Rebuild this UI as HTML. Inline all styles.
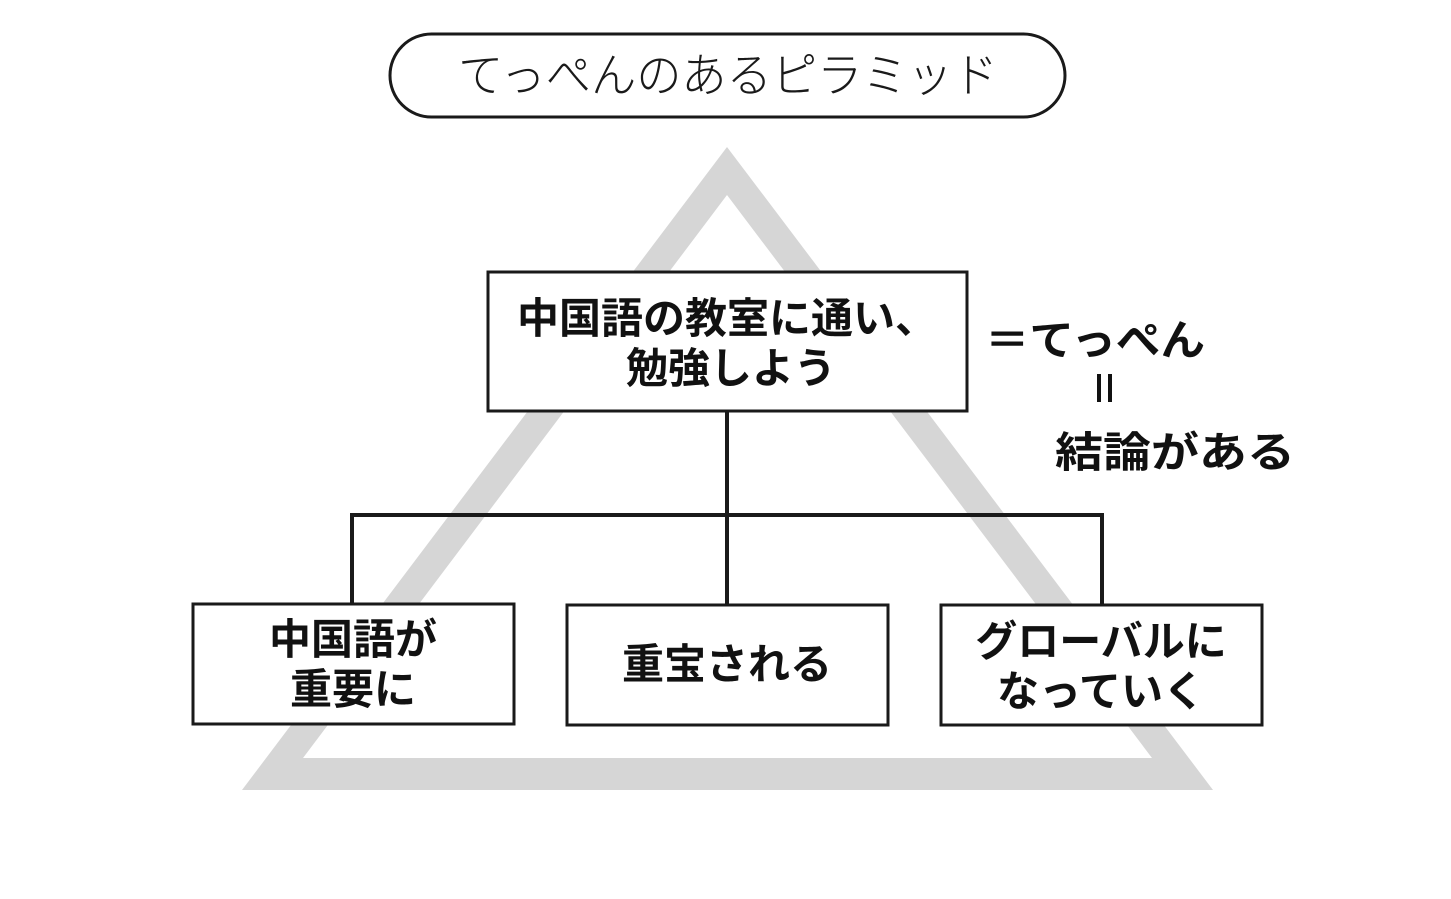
<!DOCTYPE html>
<html><head><meta charset="utf-8"><style>
html,body{margin:0;padding:0;background:#fff;}
svg{display:block;}
text{font-family:"Liberation Sans","Noto Sans CJK JP",sans-serif;}
.b{font-weight:700;font-size:42px;fill:#111;}
</style></head><body>
<svg width="1451" height="899" viewBox="0 0 1451 899">
<rect width="1451" height="899" fill="#fff"/>
<path fill-rule="evenodd" fill="#d6d6d6" d="M727 147 L1213 790 L242 790 Z M727 195 L303 758 L1152 758 Z"/>
<rect x="390" y="34" width="675" height="83" rx="41.5" fill="#fff" stroke="#1a1a1a" stroke-width="3"/>
<text x="458" y="92" font-size="47" font-weight="300" fill="#1a1a1a" textLength="540" lengthAdjust="spacingAndGlyphs">てっぺんのあるピラミッド</text>
<g stroke="#1a1a1a" stroke-width="4" fill="none">
<line x1="727" y1="412" x2="727" y2="604"/>
<polyline points="352,604 352,515 1102,515 1102,604"/>
</g>
<g fill="#fff" stroke="#1a1a1a" stroke-width="3">
<rect x="488" y="272" width="479" height="139"/>
<rect x="193" y="604" width="321" height="120"/>
<rect x="567" y="605" width="321" height="120"/>
<rect x="941" y="605" width="321" height="120"/>
</g>
<text class="b" x="727" y="333" text-anchor="middle">中国語の教室に通い、</text>
<text class="b" x="731" y="383" text-anchor="middle">勉強しよう</text>
<text class="b" x="353" y="654" text-anchor="middle">中国語が</text>
<text class="b" x="353" y="704" text-anchor="middle">重要に</text>
<text class="b" x="727" y="679" text-anchor="middle">重宝される</text>
<text class="b" x="1101" y="656" text-anchor="middle">グローバルに</text>
<text class="b" x="1101" y="706" text-anchor="middle">なっていく</text>
<text class="b" x="985" y="355" font-size="45" textLength="220" lengthAdjust="spacingAndGlyphs">＝てっぺん</text>
<g stroke="#111" stroke-width="4"><line x1="1099" y1="374" x2="1099" y2="402"/><line x1="1110" y1="374" x2="1110" y2="402"/></g>
<text class="b" x="1055" y="467" font-size="49" textLength="240" lengthAdjust="spacingAndGlyphs">結論がある</text>
</svg>
</body></html>
